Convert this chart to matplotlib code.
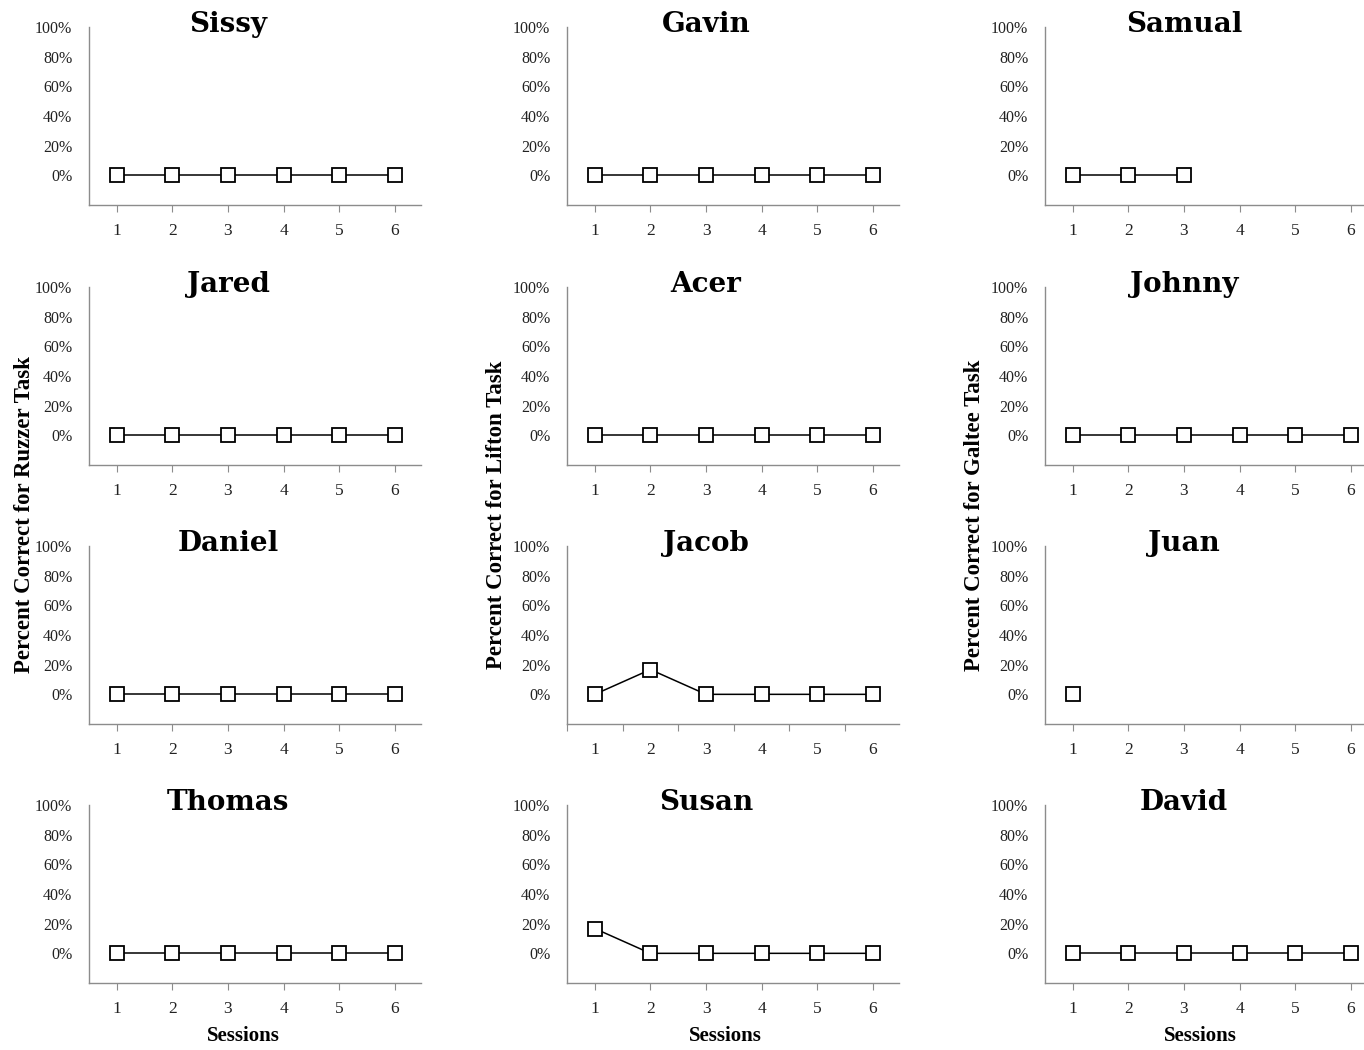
import matplotlib.pyplot as plt
from matplotlib.ticker import FixedLocator

names = ["Sissy", "Gavin", "Samual",
         "Jared", "Acer", "Johnny",
         "Daniel", "Jacob", "Juan",
         "Thomas", "Susan", "David"]
sessions = [1, 2, 3, 4, 5, 6]
scores = {
    "Sissy": [0, 0, 0, 0, 0, 0],
    "Gavin": [0, 0, 0, 0, 0, 0],
    "Samual": [0, 0, 0],
    "Jared": [0, 0, 0, 0, 0, 0],
    "Acer": [0, 0, 0, 0, 0, 0],
    "Johnny": [0, 0, 0, 0, 0, 0],
    "Daniel": [0, 0, 0, 0, 0, 0],
    "Jacob": [0, 0.167, 0, 0, 0, 0],
    "Juan": [0],
    "Thomas": [0, 0, 0, 0, 0, 0],
    "Susan": [0.167, 0, 0, 0, 0, 0],
    "David": [0, 0, 0, 0, 0, 0],
}
ylabels = ["Percent Correct for Ruzzer Task",
           "Percent Correct for Lifton Task",
           "Percent Correct for Galtee Task"]
yticks = [0, 0.2, 0.4, 0.6, 0.8, 1.0]
ytick_labels = ["0%", "20%", "40%", "60%", "80%", "100%"]

W, H = 1364, 1050
fig = plt.figure(figsize=(W / 100, H / 100), dpi=100)

col_left = [89, 567, 1045]
col_right = [421, 899, 1363]
row_bottom = [205, 465, 724, 983]
ax_h = 178
step = 55.6  # pixels per session

serif = ["Liberation Serif", "DejaVu Serif"]

for i, name in enumerate(names):
    r, c = divmod(i, 3)
    left = col_left[c]
    right = col_right[c]
    ax = fig.add_axes([left / W, 1 - row_bottom[r] / H, (right - left) / W, ax_h / H])
    xmax = 0.5 + (right - left) / step
    vals = scores[name]
    ax.plot(sessions[:len(vals)], vals, color="black", lw=1.1, marker="s",
            ms=10, mfc="white", mec="black", mew=1.3, clip_on=False, zorder=3)
    ax.set_xlim(0.5, xmax)
    ax.set_ylim(-0.2, 1.0)
    ax.set_yticks(yticks)
    ax.set_yticklabels(ytick_labels)
    ax.set_xticks(sessions)
    ax.set_xticklabels([str(s) for s in sessions])
    if name == "Jacob":
        ax.xaxis.set_major_locator(FixedLocator([0.5, 1.5, 2.5, 3.5, 4.5, 5.5, 6.5]))
        ax.set_xticklabels([])
        ax.xaxis.set_minor_locator(FixedLocator(sessions))
        ax.xaxis.set_minor_formatter(plt.FixedFormatter([str(s) for s in sessions]))
        ax.tick_params(axis="x", which="minor", length=0, pad=13, labelsize=12.5,
                       labelcolor="#222222")
        for lab in ax.get_xticklabels(minor=True):
            lab.set_family(serif)
    for s in ["top", "right"]:
        ax.spines[s].set_visible(False)
    for s in ["left", "bottom"]:
        ax.spines[s].set_color("#8c8c8c")
        ax.spines[s].set_linewidth(1.0)
    ax.tick_params(axis="y", length=0, pad=12, labelsize=11.5, colors="#222222")
    ax.tick_params(axis="x", which="major", length=5, color="#8c8c8c", pad=8,
                   labelsize=12.5, labelcolor="#222222")
    for lab in ax.get_xticklabels() + ax.get_yticklabels():
        lab.set_family(serif)
    ax.text(139 / (right - left), 1.015, name, transform=ax.transAxes,
            ha="center", va="center", fontsize=20, fontweight="bold",
            family=["DejaVu Serif"])

ylab_x = [25, 497, 975]
for c in range(3):
    fig.text(ylab_x[c] / W, 1 - 515 / H, ylabels[c], rotation=90, ha="center",
             va="center", fontsize=16.5, fontweight="bold", family=serif)

sess_x = [243, 725, 1200]
for c in range(3):
    fig.text(sess_x[c] / W, 1 - 1036 / H, "Sessions", ha="center", va="center",
             fontsize=15, fontweight="bold", family=serif)

fig.savefig("out.png", dpi=100)
